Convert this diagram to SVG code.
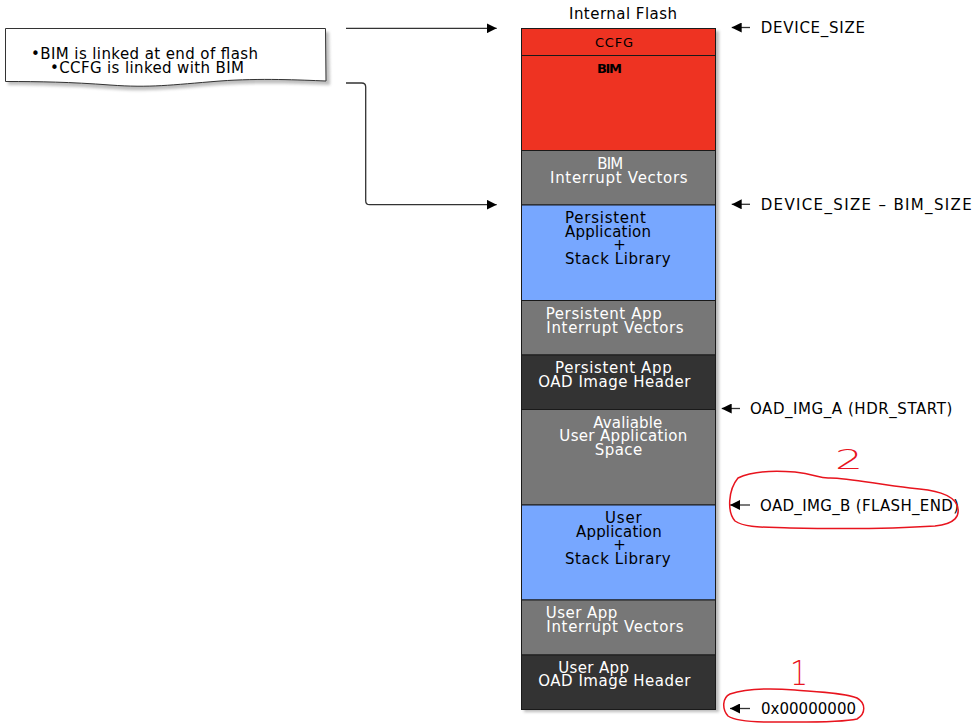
<svg xmlns="http://www.w3.org/2000/svg" width="977" height="724" viewBox="0 0 977 724">
<defs>
<style>
.t{font-family:"DejaVu Sans","Liberation Sans",sans-serif;font-size:15px;}
.w{fill:#ffffff;}
.b{fill:#000000;}
.bb{fill:#000000;}
.blk{stroke:#1a1a1a;stroke-width:1;}
.con{fill:none;stroke:#333333;stroke-width:1.3;}
.red{fill:none;stroke:#e8141e;stroke-width:1.5;stroke-linecap:round;stroke-linejoin:round;}
.hand{font-family:"DejaVu Sans","Liberation Sans",sans-serif;font-weight:200;fill:#e8141e;}
</style>
<marker id="ar" viewBox="0 0 10 10" refX="10" refY="5" markerWidth="10" markerHeight="10" markerUnits="userSpaceOnUse" orient="auto">
<path d="M0,0 L10,5 L0,10 Z" fill="#000"/>
</marker>
<filter id="sh" x="-10%" y="-10%" width="130%" height="130%">
<feGaussianBlur stdDeviation="1.5"/>
</filter>
</defs>
<rect width="977" height="724" fill="#ffffff"/>

<g id="note">
<path d="M8,32 L329,32 L330,85 C300,84 260,82 220,85 C170,89 150,92 110,89 C70,86 40,85 8,85 Z" fill="#888" opacity="0.55" filter="url(#sh)"/>
<path d="M5.5,28.5 L325.5,28.5 L326,81 C300,80 260,78 220,81 C170,85 150,88 110,85 C70,82 40,81.5 5.5,81.5 Z" fill="#ffffff" stroke="#333" stroke-width="1"/>
<text class="t b" x="31" y="59" textLength="227" lengthAdjust="spacing">•BIM is linked at end of flash</text>
<text class="t b" x="50" y="73.3" textLength="194" lengthAdjust="spacing">•CCFG is linked with BIM</text>
</g>

<g id="title">
<text class="t b" x="569" y="19.3" textLength="108" lengthAdjust="spacing">Internal Flash</text>
</g>

<rect x="524" y="31" width="195" height="681" fill="#777" opacity="0.5" filter="url(#sh)"/>

<g id="ccfg">
<rect class="blk" x="521.5" y="28.5" width="194" height="27" fill="#ee3322"/>
<text class="t bb" x="595" y="46.7" style="font-size:13px" textLength="38" lengthAdjust="spacing">CCFG</text>
</g>
<g id="bim">
<rect class="blk" x="521.5" y="55.5" width="194" height="95" fill="#ee3322"/>
<text class="t bb" x="597" y="73.3" style="font-size:13px;font-weight:bold" textLength="25" lengthAdjust="spacing">BIM</text>
</g>
<g id="bim-vectors">
<rect class="blk" x="521.5" y="150.5" width="194" height="54.5" fill="#777777"/>
<text class="t w" x="597.3" y="169.3" textLength="26" lengthAdjust="spacing">BIM</text>
<text class="t w" x="550" y="183" textLength="137.7" lengthAdjust="spacing">Interrupt Vectors</text>
</g>
<g id="persistent-app">
<rect class="blk" x="521.5" y="205" width="194" height="95.5" fill="#77a7ff"/>
<text class="t bb" x="565" y="222.7" textLength="81" lengthAdjust="spacing">Persistent</text>
<text class="t bb" x="565" y="236.7" textLength="86" lengthAdjust="spacing">Application</text>
<text class="t bb" x="613.3" y="250" textLength="11" lengthAdjust="spacing">+</text>
<text class="t bb" x="565" y="264" textLength="105.7" lengthAdjust="spacing">Stack Library</text>
</g>
<g id="persistent-vectors">
<rect class="blk" x="521.5" y="300.5" width="194" height="54.5" fill="#777777"/>
<text class="t w" x="545.7" y="319.3" textLength="116" lengthAdjust="spacing">Persistent App</text>
<text class="t w" x="546.3" y="332.7" textLength="137.4" lengthAdjust="spacing">Interrupt Vectors</text>
</g>
<g id="persistent-header">
<rect class="blk" x="521.5" y="355" width="194" height="54.5" fill="#333333"/>
<text class="t w" x="555" y="373.3" textLength="116.7" lengthAdjust="spacing">Persistent App</text>
<text class="t w" x="538.3" y="386.7" textLength="152" lengthAdjust="spacing">OAD Image Header</text>
</g>
<g id="available">
<rect class="blk" x="521.5" y="409.5" width="194" height="95.5" fill="#777777"/>
<text class="t w" x="593.3" y="427.7" textLength="69" lengthAdjust="spacing">Avaliable</text>
<text class="t w" x="559.3" y="441" textLength="128" lengthAdjust="spacing">User Application</text>
<text class="t w" x="594.7" y="455" textLength="47.6" lengthAdjust="spacing">Space</text>
</g>
<g id="user-app">
<rect class="blk" x="521.5" y="505" width="194" height="95" fill="#77a7ff"/>
<text class="t bb" x="605" y="522.7" textLength="36.7" lengthAdjust="spacing">User</text>
<text class="t bb" x="576" y="536.7" textLength="85.7" lengthAdjust="spacing">Application</text>
<text class="t bb" x="613.3" y="550" textLength="11" lengthAdjust="spacing">+</text>
<text class="t bb" x="565" y="564" textLength="105.7" lengthAdjust="spacing">Stack Library</text>
</g>
<g id="user-vectors">
<rect class="blk" x="521.5" y="600" width="194" height="55" fill="#777777"/>
<text class="t w" x="545.7" y="618.3" textLength="71.6" lengthAdjust="spacing">User App</text>
<text class="t w" x="546.3" y="631.7" textLength="137.4" lengthAdjust="spacing">Interrupt Vectors</text>
</g>
<g id="user-header">
<rect class="blk" x="521.5" y="655" width="194" height="54.5" fill="#333333"/>
<text class="t w" x="558.3" y="672.7" textLength="70.7" lengthAdjust="spacing">User App</text>
<text class="t w" x="538.3" y="686" textLength="152" lengthAdjust="spacing">OAD Image Header</text>
</g>

<g id="connectors">
<path class="con" d="M346,28.3 L496.7,28.3" marker-end="url(#ar)"/>
<path class="con" d="M346,83 L361.7,83 Q365.7,83 365.7,87 L365.7,200.7 Q365.7,204.7 369.7,204.7 L496.7,204.7" marker-end="url(#ar)"/>
<path class="con" d="M750,27.5 L731.7,27.5" marker-end="url(#ar)"/>
<path class="con" d="M750,204.3 L731.7,204.3" marker-end="url(#ar)"/>
<path class="con" d="M740,408.5 L721.7,408.5" marker-end="url(#ar)"/>
<path class="con" d="M750,505 L730,505" marker-end="url(#ar)"/>
<path class="con" d="M750,708.5 L730,708.5" marker-end="url(#ar)"/>
</g>

<g id="labels">
<text class="t b" x="760.7" y="33" textLength="104.3" lengthAdjust="spacing">DEVICE_SIZE</text>
<text class="t b" x="760.7" y="209.5" textLength="211" lengthAdjust="spacing">DEVICE_SIZE  –  BIM_SIZE</text>
<text class="t b" x="750" y="414" textLength="202.3" lengthAdjust="spacing">OAD_IMG_A (HDR_START)</text>
<text class="t b" x="760" y="510.5" textLength="199" lengthAdjust="spacing">OAD_IMG_B (FLASH_END)</text>
<text class="t b" x="761" y="714" textLength="95" lengthAdjust="spacing">0x00000000</text>
</g>

<g id="annotations">
<text class="hand" x="835" y="469" style="font-size:27px" textLength="28" lengthAdjust="spacingAndGlyphs">2</text>
<path class="red" d="M738,478 C750,472 770,470 795,472 C815,474 820,479 830,478 C850,478 880,485 910,488 C935,490 952,494 957,505 C961,516 955,524 935,526 C890,529 840,529 790,528 C765,527 745,528 735,521 C727,512 728,490 738,478 Z"/>
<text class="hand" x="790" y="685" style="font-size:34px" textLength="18" lengthAdjust="spacingAndGlyphs">1</text>
<path class="red" d="M730,694 C745,689 770,688 795,690 C820,692 845,693 857,698 C866,703 866,714 857,719 C840,723 800,722 770,722 C750,722 735,721 728,716 C722,709 722,698 730,694 Z"/>
</g>
</svg>
